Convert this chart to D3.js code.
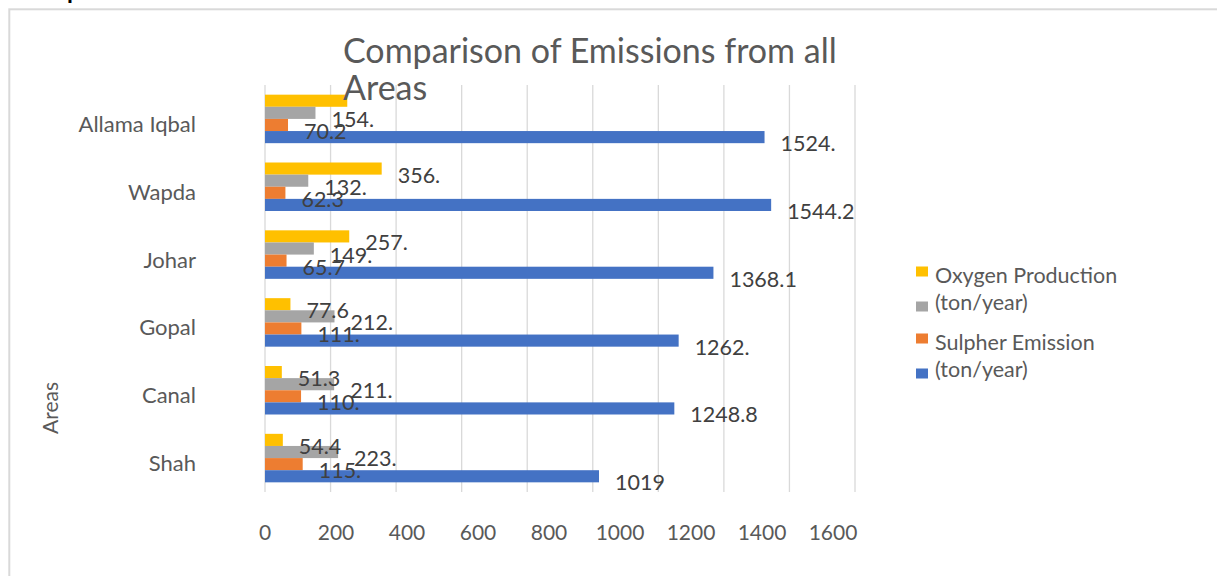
<!DOCTYPE html>
<html>
<head>
<meta charset="utf-8">
<script src="https://cdn.jsdelivr.net/npm/d3@7"></script>
<style>
body { margin: 0; background: #fff; overflow: hidden; }
svg { display: block; font-family: Lato, "Open Sans", sans-serif; }
</style>
</head>
<body>
<svg width="1217" height="576"></svg>
<script>
var areas = ['Allama Iqbal', 'Wapda', 'Johar', 'Gopal', 'Canal', 'Shah'];

// series, top bar of each group first
var seriesNames = ['Oxygen Production', '(ton/year)', 'Sulpher Emission', '(ton/year)'];
var seriesColors = ['#ffc000', '#a5a5a5', '#ed7d31', '#4472c4'];
var oxygen = [251, 356, 257, 77.6, 51.3, 54.4];
var oxygenTon = [154, 132, 149, 212, 211, 223];
var sulpher = [70.2, 62.3, 65.7, 111, 110, 115];
var sulpherTon = [1524, 1544.2, 1368.1, 1262, 1248.8, 1019];

// data labels as they show on the chart (cut short by excel)
var oxygenLabels = ['', '356.', '257.', '77.6', '51.3', '54.4'];
var oxygenTonLabels = ['154.', '132.', '149.', '212.', '211.', '223.'];
var sulpherLabels = ['70.2', '62.3', '65.7', '111.', '110.', '115.'];
var sulpherTonLabels = ['1524.', '1544.2', '1368.1', '1262.', '1248.8', '1019'];

var gridTicks = [0, 200, 400, 600, 800, 1000, 1200, 1400, 1600, 1800];
var tickLabels = [0, 200, 400, 600, 800, 1000, 1200, 1400, 1600];

var titleLines = ['Comparison of Emissions from all', 'Areas'];
var axisTitle = 'Areas';

var series = [
	{name: seriesNames[0], color: seriesColors[0], values: oxygen, labels: oxygenLabels},
	{name: seriesNames[1], color: seriesColors[1], values: oxygenTon, labels: oxygenTonLabels},
	{name: seriesNames[2], color: seriesColors[2], values: sulpher, labels: sulpherLabels},
	{name: seriesNames[3], color: seriesColors[3], values: sulpherTon, labels: sulpherTonLabels}
];

var svg = d3.select('svg');

// chart frame, runs off the right and bottom of the picture
svg.append('rect')
	.attr('x', 9.3).attr('y', 9.3)
	.attr('width', 1400).attr('height', 800)
	.attr('fill', 'none')
	.attr('stroke', '#d9d9d9')
	.attr('stroke-width', 2);

// bit of a heading above the frame
svg.append('text')
	.attr('x', 67).attr('y', -1)
	.attr('font-size', 24)
	.attr('font-weight', 'bold')
	.attr('fill', '#000')
	.text('p');

var x = d3.scaleLinear().domain([0, 1800]).range([265, 855]);
// excel put the tick labels on a slightly different spacing than the grid
var xLab = d3.scaleLinear().domain([0, 1600]).range([265, 833]);
var y = d3.scaleBand().domain(areas).range([85, 492])
	.paddingInner(0.285).paddingOuter(0.1425);
var ySub = d3.scaleBand().domain(d3.range(series.length)).range([0, y.bandwidth()]);

var g = svg.append('g');

g.selectAll('line.grid')
	.data(gridTicks)
	.enter().append('line')
	.attr('class', 'grid')
	.attr('x1', function(d) { return x(d); })
	.attr('x2', function(d) { return x(d); })
	.attr('y1', y.range()[0])
	.attr('y2', y.range()[1])
	.attr('stroke', '#d9d9d9')
	.attr('stroke-width', 1.3);

series.forEach(function(s, i) {
	g.selectAll('rect.s' + i)
		.data(s.values)
		.enter().append('rect')
		.attr('class', 's' + i)
		.attr('x', x(0))
		.attr('y', function(d, j) { return y(areas[j]) + ySub(i); })
		.attr('width', function(d) { return x(d) - x(0); })
		.attr('height', ySub.bandwidth())
		.attr('fill', s.color);
});

series.forEach(function(s, i) {
	g.selectAll('text.l' + i)
		.data(s.values)
		.enter().append('text')
		.attr('class', 'l' + i)
		.attr('x', function(d) { return x(d) + 16; })
		.attr('y', function(d, j) { return y(areas[j]) + ySub(i) + ySub.bandwidth() / 2 + 14; })
		.attr('font-size', 21.5)
		.attr('fill', '#404040')
		.text(function(d, j) { return s.labels[j]; });
});

// category labels
g.selectAll('text.cat')
	.data(areas)
	.enter().append('text')
	.attr('class', 'cat')
	.attr('x', 196)
	.attr('y', function(d) { return y(d) + y.bandwidth() / 2 + 13; })
	.attr('text-anchor', 'end')
	.attr('font-size', 22)
	.attr('fill', '#595959')
	.text(function(d) { return d; });

// value axis labels
g.selectAll('text.tick')
	.data(tickLabels)
	.enter().append('text')
	.attr('class', 'tick')
	.attr('x', function(d) { return xLab(d); })
	.attr('y', 540)
	.attr('text-anchor', 'middle')
	.attr('font-size', 21)
	.attr('fill', '#595959')
	.text(function(d) { return d; });

svg.append('text')
	.attr('transform', 'translate(58,408) rotate(-90)')
	.attr('text-anchor', 'middle')
	.attr('font-size', 21)
	.attr('fill', '#595959')
	.text(axisTitle);

svg.selectAll('text.title')
	.data(titleLines)
	.enter().append('text')
	.attr('class', 'title')
	.attr('x', 343)
	.attr('y', function(d, i) { return 63 + i * 37; })
	.attr('font-size', 34)
	.attr('fill', '#595959')
	.text(function(d) { return d; });

// legend: names wrap in pairs like in excel
var legend = svg.append('g');
series.forEach(function(s, i) {
	var pair = Math.floor(i / 2), second = i % 2;
	var base = 283 + pair * 67 + second * 27;
	legend.append('rect')
		.attr('x', 916)
		.attr('y', second ? base - 8.5 : base - 16.5)
		.attr('width', 12)
		.attr('height', 10)
		.attr('fill', s.color);
	legend.append('text')
		.attr('x', 935)
		.attr('y', base)
		.attr('font-size', 21.5)
		.attr('fill', '#595959')
		.text(s.name);
});
</script>
</body>
</html>
